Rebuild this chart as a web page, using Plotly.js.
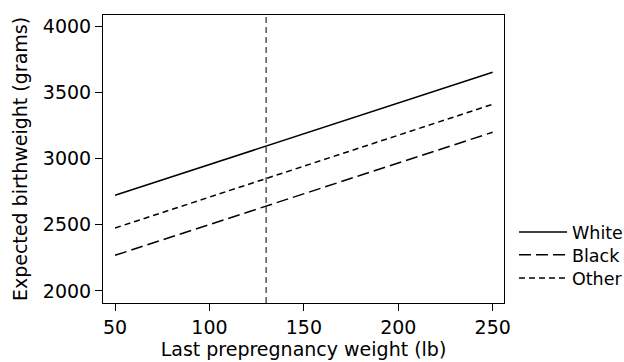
<!DOCTYPE html>
<html>
<head>
<meta charset="utf-8">
<script src="https://cdn.plot.ly/plotly-3.0.1.min.js"></script>
<style>html,body{margin:0;padding:0;background:#fff;}#chart{width:624px;height:362px;}</style>
</head>
<body>
<div id="chart"></div>
<script>
const weights = [50, 250];
const white = [2722, 3651];
const black = [2269, 3198];
const other = [2475, 3409];
const refWeight = 130;
const seriesNames = ["White", "Black", "Other"];

const font = "DejaVu Sans, sans-serif";
const legendY = [0.359, 0.2956, 0.232];
function legendBox(i) {
  return {x: 0.8237, xref: "container", xanchor: "left", y: legendY[i], yref: "container", yanchor: "middle",
          font: {size: 17.5}, itemwidth: 48, bgcolor: "rgba(0,0,0,0)", borderwidth: 0};
}
const traces = [
  {x: weights, y: white, name: seriesNames[0], legend: "legend", mode: "lines", line: {color: "#000", width: 1.5, dash: "solid"}},
  {x: weights, y: black, name: seriesNames[1], legend: "legend2", mode: "lines", line: {color: "#000", width: 1.5, dash: "12px,5px"}},
  {x: weights, y: other, name: seriesNames[2], legend: "legend3", mode: "lines", line: {color: "#000", width: 1.5, dash: "6px,4px"}}
];
const layout = {
  width: 624, height: 362,
  margin: {l: 103, r: 120, t: 15, b: 59},
  paper_bgcolor: "#fff", plot_bgcolor: "#fff",
  font: {family: font, color: "#000", size: 19},
  showlegend: true,
  legend: legendBox(0), legend2: legendBox(1), legend3: legendBox(2),
  xaxis: {
    range: [43.6, 256], showgrid: false, zeroline: false,
    tickvals: [50, 100, 150, 200, 250], ticks: "outside", ticklen: 7, tickwidth: 1, tickcolor: "#000",
    showline: true, linecolor: "#000", linewidth: 1, mirror: true,
    tickfont: {size: 19},
    title: {text: "Last prepregnancy weight (lb)", font: {size: 19}, standoff: 3}
  },
  yaxis: {
    range: [1909, 4083], showgrid: false, zeroline: false,
    tickvals: [2000, 2500, 3000, 3500, 4000], ticks: "outside", ticklen: 7, tickwidth: 1, tickcolor: "#000",
    showline: true, linecolor: "#000", linewidth: 1, mirror: true,
    tickfont: {size: 19},
    title: {text: "Expected birthweight (grams)", font: {size: 19}, standoff: 10}
  },
  shapes: [{type: "line", xref: "x", yref: "paper", x0: refWeight, x1: refWeight, y0: 0, y1: 1,
            line: {color: "#2a2a2a", width: 1.2, dash: "6px,4px"}}]
};
Plotly.newPlot("chart", traces, layout, {displayModeBar: false, staticPlot: true});
</script>
</body>
</html>
